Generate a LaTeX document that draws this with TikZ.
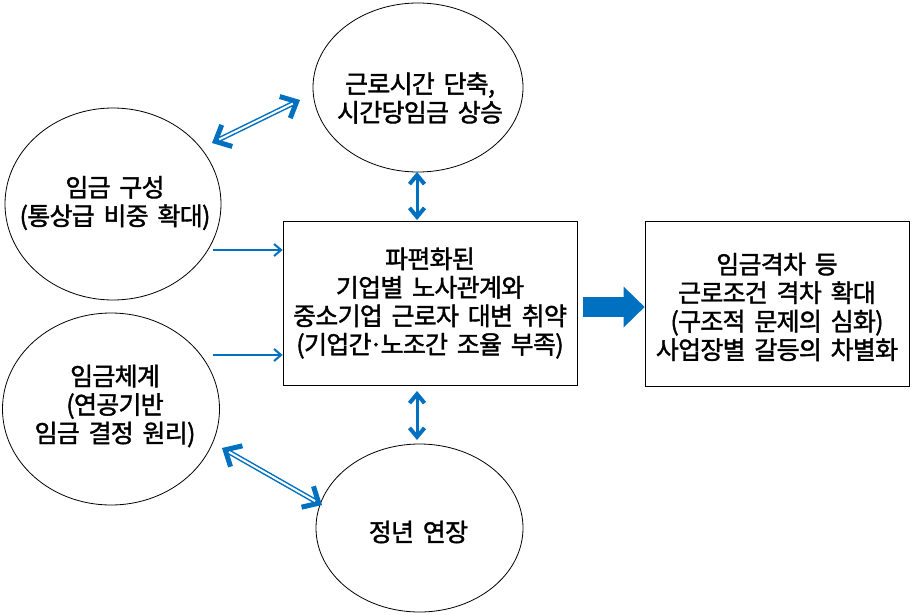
\documentclass[tikz,border=0pt]{standalone}
\usepackage{fontspec}
\setmainfont{Noto Sans CJK KR}[WordSpace=1.8,FakeBold=1.5,LetterSpace=-3]
\usetikzlibrary{arrows.meta,shapes.geometric}
\definecolor{arrowblue}{RGB}{0,112,192}
\begin{document}
\begin{tikzpicture}[x=1pt,y=-1pt,
  oval/.style={draw=black,line width=0.8pt,ellipse,inner sep=0pt},
  box/.style={draw=black,line width=0.8pt,rectangle,inner sep=0pt},
  txt/.style={align=center,font=\fontsize{25}{28.5}\selectfont,inner sep=0pt},
  thin arrow/.style={draw=arrowblue,line width=2pt,-{Straight Barb[length=7pt,width=12pt,line width=2pt]}},
  vert arrow/.style={draw=arrowblue,line width=3pt,{Straight Barb[length=9pt,width=15pt,line width=4pt]}-{Straight Barb[length=9pt,width=15pt,line width=4pt]}},
  dbl outer/.style={draw=arrowblue,line width=5pt,{Straight Barb[length=13pt,width=24pt,line width=5pt]}-{Straight Barb[length=13pt,width=24pt,line width=5pt]}},
  dbl inner/.style={draw=white,line width=2pt,shorten <=8pt,shorten >=8pt},
  block arrow/.style={draw=arrowblue,line width=20pt,-{Triangle[length=21pt,width=41pt,line width=0pt]}}
]
\useasboundingbox (0,0) rectangle (920,615);
\fill[white] (0,0) rectangle (920,615);

% shapes
\node[oval,minimum width=210pt,minimum height=169pt] (top) at (418,87.5) {};
\node[oval,minimum width=216pt,minimum height=192pt] (lt) at (113,204) {};
\node[oval,minimum width=217pt,minimum height=192pt] (lb) at (111,409) {};
\node[oval,minimum width=207pt,minimum height=168pt] (bot) at (419.5,528) {};
\node[box,minimum width=294pt,minimum height=164pt] (mid) at (430,303) {};
\node[box,minimum width=264pt,minimum height=165pt] (right) at (777,303.5) {};

% texts
\node[txt] (toptext) at (420,98) {근로시간 단축,\\시간당임금 상승};
\node[txt] (lttext) at (115,203) {임금 구성\\(통상급 비중 확대)};
\node[txt] (lbtext) at (115,406) {임금체계\\(연공기반\\임금 결정 원리)};
\node[txt] (bottext) at (418.5,532) {정년 연장};
\node[txt] (midtext) at (430,303) {파편화된\\기업별 노사관계와\\중소기업 근로자 대변 취약\\(기업간\kern-0.1em·\kern-0.1em노조간 조율 부족)};
\node[txt] (righttext) at (777,307) {임금격차 등\\근로조건 격차 확대\\(구조적 문제의 심화)\\사업장별 갈등의 차별화};

% connector end points
\coordinate (d1a) at (212,143);
\coordinate (d1b) at (300,100);
\coordinate (d2a) at (222,448);
\coordinate (d2b) at (322,505);
\coordinate (v1a) at (417,172);
\coordinate (v1b) at (417,220);
\coordinate (v2a) at (417,391);
\coordinate (v2b) at (417,440);
\coordinate (h1a) at (213,250);
\coordinate (h2a) at (213,355);
\coordinate (ba) at (583,307);

% connectors
\draw[dbl outer] (d1a) -- (d1b);
\draw[dbl inner] (d1a) -- (d1b);
\draw[dbl outer] (d2a) -- (d2b);
\draw[dbl inner] (d2a) -- (d2b);
\draw[vert arrow] (v1a) -- (v1b);
\draw[vert arrow] (v2a) -- (v2b);
\draw[thin arrow] (h1a) -- (h1a -| mid.west);
\draw[thin arrow] (h2a) -- (h2a -| mid.west);
\draw[block arrow] (ba) -- (ba -| right.west);
\end{tikzpicture}
\end{document}
